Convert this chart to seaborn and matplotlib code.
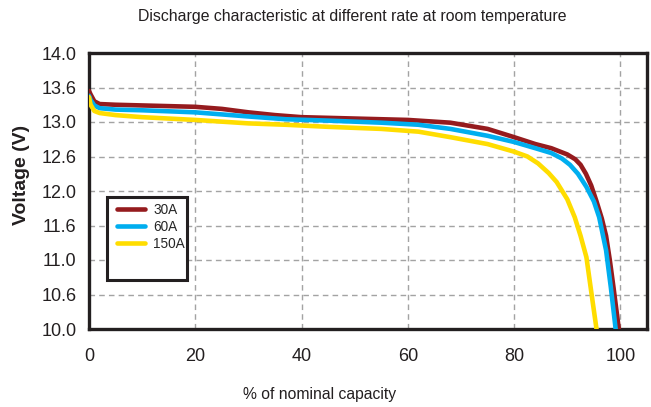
import pandas as pd
import seaborn as sns
import matplotlib.pyplot as plt
from matplotlib.patches import Rectangle

# dati (capacita' % , tensione V)
pct_30a = [0, 0.3, 1, 2, 5, 10, 20, 25, 30, 35, 40, 50, 60, 68, 75, 80, 84, 87, 90, 91.5, 92.5, 93.5, 94.5, 95.5, 96.5, 97.3, 98, 98.7, 99.2, 99.7]
volt_30a = [13.45, 13.40, 13.30, 13.26, 13.25, 13.24, 13.22, 13.19, 13.14, 13.10, 13.07, 13.05, 13.03, 12.99, 12.90, 12.78, 12.68, 12.62, 12.53, 12.46, 12.38, 12.25, 12.08, 11.85, 11.60, 11.35, 11.00, 10.60, 10.30, 10.0]

pct_60a = [0, 0.3, 1, 2, 5, 10, 20, 30, 37, 45, 55, 62, 68, 75, 80, 84, 87, 89, 90.5, 92, 93.6, 95, 96, 97.3, 98.2, 99.1]
volt_60a = [13.38, 13.32, 13.24, 13.20, 13.18, 13.17, 13.14, 13.08, 13.04, 13.02, 12.99, 12.96, 12.90, 12.80, 12.71, 12.62, 12.55, 12.47, 12.38, 12.25, 12.06, 11.85, 11.62, 11.14, 10.6, 10.0]

pct_150a = [0, 0.3, 1, 2, 5, 10, 20, 30, 37, 45, 55, 62, 68, 75, 80, 82.5, 84.5, 86.5, 88, 90, 91.4, 92.5, 93.6, 94.8, 95.5]
volt_150a = [13.36, 13.25, 13.16, 13.13, 13.10, 13.07, 13.03, 12.98, 12.96, 12.93, 12.90, 12.86, 12.78, 12.68, 12.57, 12.50, 12.40, 12.26, 12.13, 11.88, 11.62, 11.35, 11.04, 10.38, 10.0]

serie = ['30A', '60A', '150A']
colori = ['#951b1e', '#00aeef', '#ffdd00']
x_ticks = [0, 20, 40, 60, 80, 100]
y_ticks = [10.0, 10.5, 11.0, 11.5, 12.0, 12.5, 13.0, 13.5, 14.0]
y_labels = ['10.0', '10.6', '11.0', '11.6', '12.0', '12.6', '13.0', '13.6', '14.0']

righe = []
for nome, xs, ys in zip(serie, [pct_30a, pct_60a, pct_150a], [volt_30a, volt_60a, volt_150a]):
    for x, y in zip(xs, ys):
        righe.append({'Capacita': x, 'Tensione': y, 'Serie': nome})
df = pd.DataFrame(righe)

sns.set_style('white')
font = ['Liberation Sans', 'DejaVu Sans']
plt.rcParams['font.family'] = font

fig = plt.figure(figsize=(6.51, 4.07), dpi=100)
ax = fig.add_axes([89 / 651, 1 - 329 / 407, 558 / 651, 276 / 407])

sns.lineplot(data=df, x='Capacita', y='Tensione', hue='Serie', hue_order=serie,
             palette=colori, sort=False, estimator=None, units='Serie',
             linewidth=3.3, ax=ax, legend=False, zorder=3)

ax.set_xlim(0, 105)
ax.set_ylim(10, 14)
ax.set_xticks(x_ticks)
ax.set_yticks(y_ticks)
ax.set_yticklabels(y_labels)
ax.tick_params(axis='both', length=0, labelsize=13, colors='#231f20', pad=9)
ax.tick_params(axis='x', pad=14)
ax.grid(True, linestyle=(0, (4, 3)), color='#a3a3a3', linewidth=1.0)
for s in ax.spines.values():
    s.set_color('#231f20')
    s.set_linewidth(2.4)
    s.set_visible(True)
ax.set_xlabel('')
ax.set_ylabel('')

# legenda con cornice nera
ax.add_patch(Rectangle((0.0323, 0.1775), 0.1433, 0.3005, transform=ax.transAxes,
                       fill=True, facecolor='white', edgecolor='#231f20', linewidth=2.2, zorder=5))
handles = [plt.Line2D([], [], color=c, linewidth=3.3) for c in colori]
leg = ax.legend(handles, serie, loc='upper left', bbox_to_anchor=(0.050, 0.458),
                frameon=False, borderpad=0, borderaxespad=0, handlelength=2.05,
                handletextpad=0.62, labelspacing=0.22, prop={'family': font, 'size': 9.8})
leg.set_zorder(6)

fig.text(352 / 651, 1 - 17 / 407, 'Discharge characteristic at different rate at room temperature',
         ha='center', va='center', fontsize=11.4, color='#231f20')
fig.text(320 / 651, 1 - 395 / 407, '% of nominal capacity', ha='center', va='center',
         fontsize=11.3, color='#231f20')
fig.text(22 / 651, 1 - 175 / 407, 'Voltage (V)', ha='center', va='center', rotation=90,
         fontsize=14, fontweight='bold', color='#231f20')

fig.savefig('out.png', dpi=100)
plt.close()
